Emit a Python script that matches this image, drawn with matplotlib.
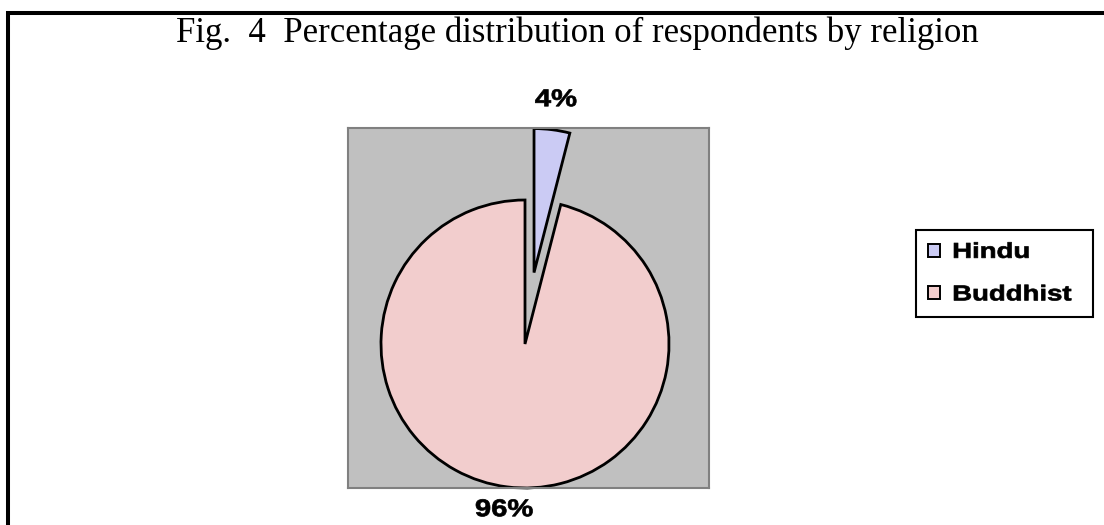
import matplotlib
matplotlib.use("Agg")
import matplotlib.pyplot as plt
from matplotlib.lines import Line2D
from matplotlib.patches import Patch
from matplotlib.patheffects import AbstractPathEffect
from matplotlib.transforms import Affine2D

# ---- data ----
categories = ["Hindu", "Buddhist"]
percentages = [4, 96]
title_text = "Fig.  4  Percentage distribution of respondents by religion"

# ---- styles ----
slice_colors = ["#CBCBF4", "#F2CDCD"]
W, H = 1104, 525


class StretchX(AbstractPathEffect):
    """Stretch text horizontally (about its left edge or centre) and embolden it."""
    def __init__(self, sx, anchor="center", stroke=0.0):
        super().__init__()
        self.sx = sx
        self.anchor = anchor
        self.stroke = stroke

    def draw_path(self, renderer, gc, tpath, affine, rgbFace=None):
        bb = tpath.get_extents(affine)
        x0 = bb.x0 if self.anchor == "left" else 0.5 * (bb.x0 + bb.x1)
        aff = affine + Affine2D().translate(-x0, 0).scale(self.sx, 1).translate(x0, 0)
        if self.stroke > 0:
            gc0 = renderer.new_gc()
            gc0.copy_properties(gc)
            gc0.set_linewidth(self.stroke)
            gc0.set_foreground(rgbFace if rgbFace is not None else "black")
            renderer.draw_path(gc0, tpath, aff, rgbFace)
            gc0.restore()
        else:
            renderer.draw_path(gc, tpath, aff, rgbFace)


fig = plt.figure(figsize=(W / 100, H / 100), dpi=100)
fig.patch.set_facecolor("white")

# outer frame (top and left black border)
fig.add_artist(Line2D([6 / W, 1.0], [1 - 13 / H, 1 - 13 / H], color="black",
                      lw=2.9, transform=fig.transFigure, solid_capstyle="butt"))
fig.add_artist(Line2D([8 / W, 8 / W], [1 - 11 / H, 0.0], color="black",
                      lw=2.9, transform=fig.transFigure, solid_capstyle="butt"))

# title
fig.text(577 / W, 1 - 42 / H, title_text, ha="center", va="baseline",
         family="Liberation Serif", fontsize=25, color="black")

# plot area (pixel-like data units, pie centre at origin)
left, right, top, bottom = 348, 709, 128, 488
cx, cy = 525, 344
ax = fig.add_axes([left / W, 1 - bottom / H, (right - left) / W, (bottom - top) / H])

radius = 144
wedges, texts, autotexts = ax.pie(
    percentages,
    labels=None,
    colors=slice_colors,
    startangle=90,
    counterclock=False,
    explode=[72, 0],
    radius=radius,
    autopct="%1.0f%%",
    pctdistance=1.21,
    frame=True,
    wedgeprops=dict(edgecolor="black", linewidth=2.0, joinstyle="miter"),
    textprops=dict(fontsize=17.5, fontweight="bold", family="Liberation Sans"),
)
for t in autotexts:
    t.set_path_effects([StretchX(1.2, "center", stroke=0.5)])
# pull the bottom label slightly inward so it stays inside the canvas
bx, by = autotexts[1].get_position()
autotexts[1].set_position((bx * 1.16 / 1.21, by * 1.16 / 1.21))

ax.set_xlim(left - cx, right - cx)
ax.set_ylim(cy - bottom, cy - top)
ax.set_aspect("auto")
ax.set_facecolor("#C0C0C0")
ax.set_xticks([])
ax.set_yticks([])
for sp in ax.spines.values():
    sp.set_color("#808080")
    sp.set_linewidth(1.5)

# legend
handles = [Patch(facecolor=c, edgecolor="black", linewidth=1.4) for c in slice_colors]
leg = fig.legend(
    handles, categories,
    loc="upper left",
    bbox_to_anchor=(916 / W, 1 - 317 / H, 177 / W, 87 / H),
    bbox_transform=fig.transFigure,
    mode="expand",
    borderaxespad=0,
    fancybox=False,
    framealpha=1,
    edgecolor="black",
    prop=dict(family="Liberation Sans", weight="bold", size=15.5),
    handlelength=0.55,
    handleheight=0.55,
    handletextpad=0.6,
    labelspacing=1.0,
    borderpad=0.55,
)
leg.get_frame().set_linewidth(1.5)
for t in leg.get_texts():
    t.set_path_effects([StretchX(1.28, "left", stroke=0.5)])

fig.savefig("out.png", dpi=100)
